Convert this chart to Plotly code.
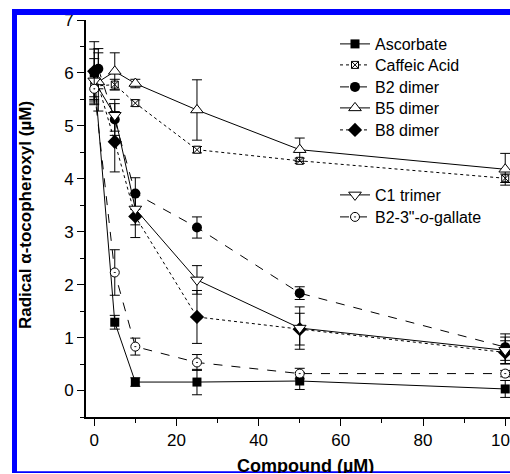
import plotly.graph_objects as go

# ---- data ----
names = ["Ascorbate", "Caffeic Acid", "B2 dimer", "B5 dimer", "B8 dimer", "C1 trimer", "B2-3\"-<i>o</i>-gallate"]

asc_x = [0, 5, 10, 25, 50, 100]
asc_y = [6.00, 1.29, 0.16, 0.16, 0.18, 0.03]
asc_e = [0.45, 0.13, 0.08, 0.24, 0.16, 0.16]

caf_x = [0, 5, 10, 25, 50, 100]
caf_y = [5.75, 5.78, 5.43, 4.55, 4.34, 4.01]
caf_e = [0.25, 0.10, 0.06, 0.06, 0.05, 0.08]

b2_x = [1, 5, 10, 25, 50, 100]
b2_y = [6.08, 5.12, 3.72, 3.08, 1.84, 0.82]
b2_e = [0.38, 0.30, 0.30, 0.20, 0.12, 0.25]

b5_x = [1, 5, 10, 25, 50, 100]
b5_y = [5.83, 6.03, 5.80, 5.30, 4.55, 4.18]
b5_e = [0.55, 0.35, 0.08, 0.57, 0.22, 0.30]

b8_x = [0, 5, 10, 25, 50, 100]
b8_y = [6.03, 4.70, 3.29, 1.39, 1.16, 0.72]
b8_e = [0.56, 0.57, 0.40, 0.50, 0.30, 0.22]

c1_x = [0, 5, 10, 25, 50, 100]
c1_y = [5.85, 5.20, 3.43, 2.09, 1.18, 0.76]
c1_e = [0.42, 0.30, 0.30, 0.27, 0.40, 0.25]

gal_x = [0, 5, 10, 25, 50, 100]
gal_y = [5.70, 2.23, 0.83, 0.53, 0.32, 0.32]
gal_e = [0.30, 0.43, 0.16, 0.15, 0.10, 0.06]

x_ticks = [0, 20, 40, 60, 80, 100]
y_ticks = [0, 1, 2, 3, 4, 5, 6, 7]

# ---- layout geometry (figure is wider than the window; the window crops it like the reference) ----
W, H = 525, 473
L, T, R = 86, 20, 0
B = H - 417
PW = W - L - R
PH = H - T - B

def fx(px):
    return (px - L) / PW

def fy(py):
    return (H - B - py) / PH

FONT = "Arial, Liberation Sans, sans-serif"

series = [
    (asc_x, asc_y, asc_e, "solid", dict(symbol="square", size=9, color="black")),
    (caf_x, caf_y, caf_e, "dot", dict(symbol="square-x", size=7, color="white", line=dict(color="black", width=1))),
    (b2_x, b2_y, b2_e, "dash", dict(symbol="circle", size=10, color="black")),
    (b5_x, b5_y, b5_e, "solid", dict(symbol="triangle-up", size=11, color="white", line=dict(color="black", width=1))),
    (b8_x, b8_y, b8_e, "dot", dict(symbol="diamond", size=11, color="black")),
    (c1_x, c1_y, c1_e, "solid", dict(symbol="triangle-down", size=11, color="white", line=dict(color="black", width=1))),
    (gal_x, gal_y, gal_e, "dash", dict(symbol="circle-dot", size=9, color="white", line=dict(color="black", width=1))),
]

legend_rows = [44, 65, 87, 108, 130, 195, 217]
legend_ids = ["legend%d" % i for i in range(2, 9)]

fig = go.Figure()
for name, (xs, ys, es, dash, mk), lg in zip(names, series, legend_ids):
    fig.add_trace(go.Scatter(
        x=xs, y=ys, name=name, mode="lines+markers",
        line=dict(color="black", width=1, dash=dash),
        marker=mk,
        error_y=dict(type="data", array=es, visible=True, color="black", thickness=1, width=5),
        legend=lg,
    ))

axis_common = dict(
    showline=True, linecolor="black", linewidth=1.6, mirror=False,
    ticks="outside", ticklen=7, tickwidth=1.2, tickcolor="black",
    showgrid=False, zeroline=False, automargin=False,
    tickfont=dict(family=FONT, size=17, color="black"),
)

legend_layout = {}
for lg, row in zip(legend_ids, legend_rows):
    legend_layout[lg] = dict(x=fx(335), y=fy(row), xanchor="left", yanchor="middle",
                             font=dict(family=FONT, size=16, color="black"),
                             bgcolor="rgba(0,0,0,0)", borderwidth=0)

fig.update_layout(
    width=W, height=H,
    margin=dict(l=L, r=R, t=T, b=B, pad=0, autoexpand=False),
    paper_bgcolor="white", plot_bgcolor="white",
    xaxis=dict(range=[-2, -2 + PW / 4.11], tickvals=x_ticks,
               minor=dict(dtick=10, tick0=0, ticks="outside", ticklen=4, tickcolor="black", tickwidth=1.2),
               **axis_common),
    yaxis=dict(range=[-0.5, 7], tickvals=y_ticks,
               minor=dict(dtick=0.5, tick0=0, ticks="outside", ticklen=4, tickcolor="black", tickwidth=1.2),
               **axis_common),
    annotations=[
        dict(text="<b>Compound (\u00b5M)</b>", xref="paper", yref="paper",
             x=fx(305), y=fy(454), xanchor="center", yanchor="top", showarrow=False,
             font=dict(family=FONT, size=18, color="black")),
        dict(text="<b>Radical \u03b1-tocopheroxyl (\u00b5M)</b>", xref="paper", yref="paper",
             x=fx(26), y=fy(215), xanchor="center", yanchor="middle", showarrow=False,
             textangle=-90, font=dict(family=FONT, size=17, color="black")),
    ],
    shapes=[
        dict(type="rect", xref="paper", yref="paper", x0=fx(12), x1=fx(W + 2), y0=fy(15), y1=fy(9),
             fillcolor="#0000ff", line=dict(width=0), layer="above"),
        dict(type="rect", xref="paper", yref="paper", x0=fx(12), x1=fx(17), y0=fy(474), y1=fy(9),
             fillcolor="#0000ff", line=dict(width=0), layer="above"),
        dict(type="rect", xref="paper", yref="paper", x0=fx(12), x1=fx(W + 2), y0=fy(474), y1=fy(471.3),
             fillcolor="#0000ff", line=dict(width=0), layer="above"),
    ],
    **legend_layout,
)

fig.write_html("out.html", config={"displayModeBar": False},
               post_script="document.body.style.margin='0px'; document.body.style.overflow='hidden';")
